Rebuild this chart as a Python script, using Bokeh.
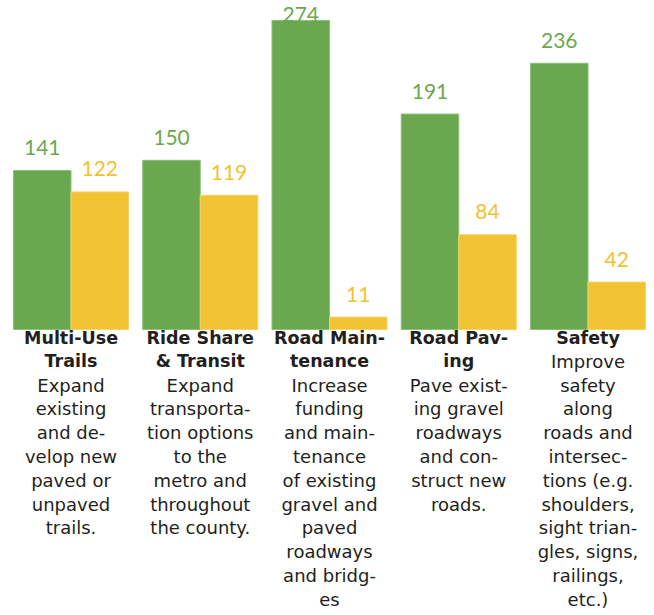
import numpy as np
from bokeh.plotting import figure
from bokeh.models import ColumnDataSource, Range1d
from bokeh.core.properties import value
from bokeh.embed import file_html
from bokeh.resources import INLINE

# ---- data ----
categories = ["Multi-Use Trails", "Ride Share & Transit", "Road Maintenance", "Road Paving", "Safety"]
green_values = [141, 150, 274, 191, 236]
yellow_values = [122, 119, 11, 84, 42]
titles = [
    ["Multi-Use", "Trails"],
    ["Ride Share", "& Transit"],
    ["Road Main-", "tenance"],
    ["Road Pav-", "ing"],
    ["Safety"],
]
descriptions = [
    ["Expand", "existing", "and de-", "velop new", "paved or", "unpaved", "trails."],
    ["Expand", "transporta-", "tion options", "to the", "metro and", "throughout", "the county."],
    ["Increase", "funding", "and main-", "tenance", "of existing", "gravel and", "paved", "roadways", "and bridg-", "es"],
    ["Pave exist-", "ing gravel", "roadways", "and con-", "struct new", "roads."],
    ["Improve", "safety", "along", "roads and", "intersec-", "tions (e.g.", "shoulders,", "sight trian-", "gles, signs,", "railings,", "etc.)"],
]

GREEN = "#6aa84f"
YELLOW = "#f1c232"
TEXT = "#231f20"
FONT = "DejaVu Sans"
NUM_FONT = "Lato"

W, H = 646, 612
px_per_unit = 1.128
base_px = 329.0
cat_px = 129.25
first_center_px = 70.5

x_start = -first_center_px / cat_px
x_end = x_start + W / cat_px
y_end = base_px / px_per_unit
y_start = (base_px - H) / px_per_unit

p = figure(width=W, height=H, output_backend="svg", toolbar_location=None,
           x_range=Range1d(x_start, x_end), y_range=Range1d(y_start, y_end),
           min_border=0, min_border_left=0, min_border_right=0,
           min_border_top=0, min_border_bottom=0)
p.axis.visible = False
p.grid.visible = False
p.outline_line_color = None
p.background_fill_color = "white"
p.border_fill_color = "white"

xi = np.arange(len(categories))
bw = 0.445
off = bw / 2
label_cap = y_end - 37 / px_per_unit

src = ColumnDataSource(dict(
    xg=xi - off, xy=xi + off,
    g=green_values, y=yellow_values,
    gl=[str(v) for v in green_values], yl=[str(v) for v in yellow_values],
    gly=np.minimum(np.array(green_values), label_cap),
    yly=np.minimum(np.array(yellow_values), label_cap),
))

p.vbar(x="xg", top="g", bottom=0, width=bw, source=src, fill_color=GREEN,
       line_color="#8dbf78", line_width=1)
p.vbar(x="xy", top="y", bottom=0, width=bw, source=src, fill_color=YELLOW,
       line_color="#f5d36a", line_width=1)

p.text(x="xg", y="gly", text="gl", source=src, text_color=GREEN,
       text_font=value(NUM_FONT), text_font_size="21px", text_align="center",
       text_baseline="alphabetic", y_offset=-23)
p.text(x="xy", y="yly", text="yl", source=src, text_color=YELLOW,
       text_font=value(NUM_FONT), text_font_size="21px", text_align="center",
       text_baseline="alphabetic", y_offset=-23)

# category labels: one row per line
lx, lt, lstyle, loff, lsize = [], [], [], [], []
line_px = 23.8
first_px = 8
for i in range(len(categories)):
    k = 0
    for t in titles[i]:
        lx.append(i); lt.append(t); lstyle.append("bold"); lsize.append("17.5px")
        loff.append(first_px + k * line_px); k += 1
    for t in descriptions[i]:
        lx.append(i); lt.append(t); lstyle.append("normal"); lsize.append("18px")
        loff.append(first_px + k * line_px); k += 1

lsrc = ColumnDataSource(dict(x=lx, y=[0] * len(lx), text=lt, style=lstyle, off=loff, size=lsize))
p.text(x="x", y="y", text="text", source=lsrc, text_color=TEXT,
       text_font=value(FONT), text_font_size="size", text_font_style="style",
       text_align="center", text_baseline="alphabetic", y_offset="off")

open("out.html", "w").write(file_html(p, INLINE))
